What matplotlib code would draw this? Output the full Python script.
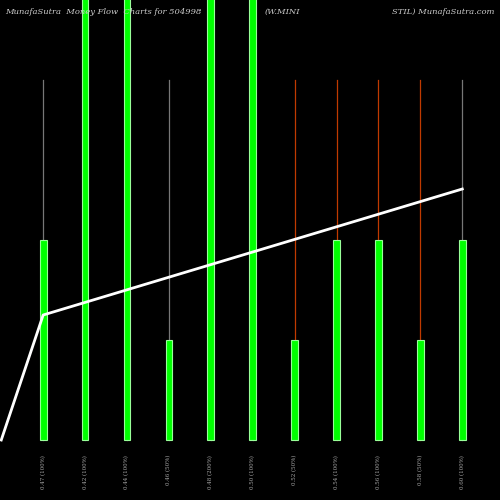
import matplotlib
matplotlib.use('Agg')
import matplotlib.pyplot as plt

labels = ['0.47 (100%)', '0.42 (100%)', '0.44 (100%)', '0.46 (50%)', '0.48 (200%)', '0.50 (100%)',
          '0.52 (50%)', '0.54 (100%)', '0.56 (100%)', '0.58 (50%)', '0.60 (100%)']
bars = [200, 500, 500, 100, 500, 500, 100, 200, 200, 100, 200]
wick = [360, 500, 500, 360, 500, 500, 360, 360, 360, 360, 360]
wick_col = ['#777777', '#777777', '#777777', '#777777', '#777777', '#777777',
            '#c03a00', '#c03a00', '#c03a00', '#c03a00', '#777777']
line_x = [-1, 0, 10]
line_y = [0, 125, 251]

fig = plt.figure(figsize=(5, 5), dpi=100, facecolor='black')
ax = fig.add_axes([0, 0, 1, 1])
ax.set_facecolor('black')
xs = list(range(len(bars)))
for x, w, c in zip(xs, wick, wick_col):
    ax.plot([x, x], [0, w], color=c, lw=0.9, zorder=1)
ax.bar(xs, bars, width=0.16, color='#00ff00', edgecolor='#99ff99', lw=0.8, zorder=2)
ax.plot(line_x, line_y, color='white', lw=2, zorder=3)
ax.set_xlim(-1.03, 10.9)
ax.set_ylim(-60, 440)
ax.axis('off')
for x, l in zip(xs, labels):
    ax.text(x, -15, l, rotation=90, color='#aaaaaa', fontsize=4, ha='center', va='top', family='DejaVu Serif')
fig.text(0.01, 0.985, 'MunafaSutra  Money Flow  Charts for 504998', color='#cccccc', fontsize=6,
         style='italic', family='DejaVu Serif', va='top')
fig.text(0.53, 0.985, '(W.MINI', color='#cccccc', fontsize=6, style='italic', family='DejaVu Serif', va='top')
fig.text(0.99, 0.985, 'STIL) MunafaSutra.com', color='#cccccc', fontsize=6, style='italic',
         family='DejaVu Serif', va='top', ha='right')
fig.savefig('out.png', facecolor='black')
